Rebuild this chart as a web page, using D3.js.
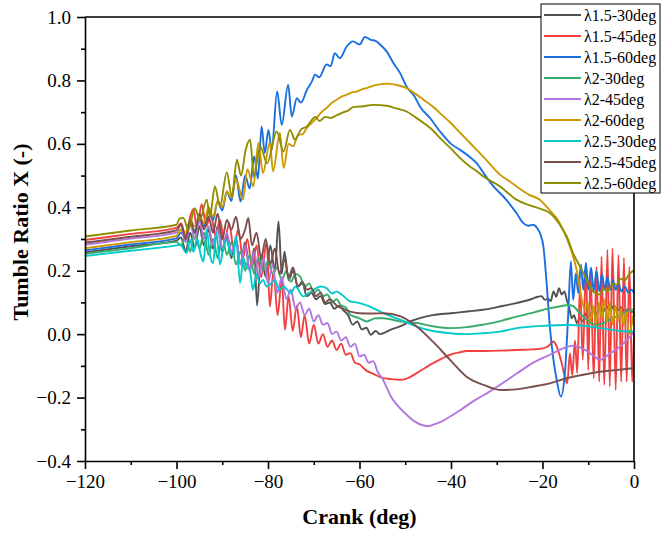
<!DOCTYPE html>
<html>
<head>
<meta charset="utf-8">
<script src="https://cdnjs.cloudflare.com/ajax/libs/d3/7.8.5/d3.min.js"></script>
<style>
  body { margin: 0; background: #fff; }
  svg text { font-family: "Liberation Serif", "DejaVu Serif", serif; fill: #000; }
</style>
</head>
<body>
<svg id="chart" width="662" height="537"></svg>
<script>
// series values, [crank deg, tumble ratio]
var s15_30 = [[-120,0.258],[-110,0.277],[-100,0.295],[-99,0.305],[-98,0.26],[-97,0.32],[-96,0.27],[-95,0.34],[-94,0.28],[-93,0.33],[-92,0.27],[-91,0.34],[-90,0.26],[-89,0.31],[-88,0.24],[-87,0.30],[-86,0.22],[-85,0.29],[-84,0.20],[-83,0.27],[-82.4,0.09],[-81.5,0.25],[-80.5,0.18],[-79.5,0.28],[-78.5,0.20],[-77.7,0.355],[-77,0.19],[-76.4,0.26],[-75.5,0.17],[-74.5,0.2],[-73.5,0.15],[-72.5,0.16],[-71.5,0.12],[-70.5,0.13],[-69.5,0.11],[-68.5,0.12],[-67.5,0.095],[-66.5,0.1],[-65.5,0.08],[-64.5,0.09],[-63.5,0.075],[-62.5,0.06],[-61.5,0.03],[-60.5,0.04],[-59.5,0.015],[-58.5,0.02],[-57.5,-0.002],[-56.5,0.01],[-55.5,0.0],[-54.5,0.005],[-53,0.015],[-51,0.025],[-49,0.04],[-47,0.05],[-44,0.06],[-40,0.066],[-36,0.072],[-33,0.077],[-29,0.088],[-25.7,0.098],[-22.5,0.11],[-21,0.118],[-20.2,0.12],[-19.5,0.108],[-18.8,0.112],[-18.2,0.104],[-17.6,0.135],[-17,0.118],[-16.4,0.145],[-15.8,0.125],[-15.2,0.135],[-14.7,0.108],[-14.2,0.085],[-13.6,0.05],[-13.1,0.06],[-12.5,0.035],[-11.8,0.05],[-11.2,0.04],[-10.5,0.065],[-9.8,0.055],[-9,0.075],[-8.3,0.06],[-7.5,0.085],[-6.8,0.07],[-6,0.087],[-5.2,0.075],[-4.4,0.09],[-3.6,0.075],[-2.8,0.085],[-2,0.07],[-1.2,0.08],[-0.5,0.07],[0,0.071]];

var s15_45 = [[-120,0.297],[-110,0.316],[-100,0.335],[-99,0.35],[-98,0.31],[-97,0.37],[-96.3,0.395],[-95.5,0.33],[-94.5,0.41],[-93.5,0.34],[-92.5,0.38],[-91.5,0.31],[-90.5,0.36],[-89.5,0.29],[-88.5,0.35],[-87.5,0.27],[-86.5,0.33],[-85.5,0.24],[-84.5,0.30],[-83.5,0.21],[-82.5,0.28],[-81.5,0.18],[-80.3,0.29],[-79.6,0.087],[-78.8,0.2],[-77.9,0.06],[-77,0.17],[-76.3,0.014],[-75.5,0.12],[-74.6,0.01],[-73.7,0.09],[-72.8,-0.01],[-72,0.06],[-71,-0.03],[-70,0.03],[-69,-0.03],[-68,0.0],[-67,-0.04],[-66,-0.02],[-65,-0.05],[-64,-0.03],[-63,-0.065],[-62,-0.06],[-61,-0.09],[-60,-0.095],[-58.5,-0.115],[-57,-0.125],[-55,-0.138],[-53,-0.142],[-51,-0.144],[-49.7,-0.14],[-47.5,-0.123],[-45.5,-0.105],[-44,-0.092],[-42,-0.077],[-40.2,-0.065],[-38,-0.057],[-36.6,-0.053],[-32.9,-0.053],[-29,-0.052],[-25.7,-0.05],[-22,-0.048],[-19.9,-0.045],[-18.5,-0.035],[-17.7,-0.023],[-17,-0.035],[-16.4,-0.06],[-15.8,-0.092],[-15.2,-0.13],[-14.6,-0.155],[-14,-0.06],[-13.5,-0.13],[-12.9,-0.02],[-12.4,-0.123],[-11.8,0.161],[-11.2,-0.081],[-10.5,0.224],[-10,-0.113],[-9.5,0.203],[-8.8,-0.139],[-8.2,0.213],[-7.6,-0.15],[-7.1,0.245],[-6.5,-0.16],[-5.8,0.266],[-5.3,-0.165],[-4.7,0.271],[-4,-0.176],[-3.4,0.25],[-2.8,-0.15],[-2.2,0.24],[-1.6,-0.15],[-1,0.213],[-0.4,-0.15],[0,0.0]];

var s15_60 = [[-120,0.264],[-110,0.283],[-100,0.302],[-99,0.32],[-98,0.30],[-97,0.345],[-96,0.32],[-95,0.36],[-94,0.34],[-93,0.39],[-92,0.36],[-91,0.42],[-90,0.39],[-89,0.45],[-88,0.42],[-87,0.50],[-86,0.418],[-85,0.50],[-84,0.46],[-83,0.56],[-82.2,0.49],[-81.4,0.655],[-80.7,0.571],[-79.9,0.644],[-79.2,0.581],[-78,0.765],[-77,0.66],[-75.6,0.786],[-74.8,0.686],[-73.7,0.744],[-72.8,0.73],[-71.5,0.77],[-70.4,0.797],[-69.7,0.818],[-68.8,0.81],[-67.2,0.85],[-66.3,0.845],[-65.4,0.886],[-64.3,0.87],[-62.8,0.907],[-61.4,0.923],[-60,0.913],[-58.8,0.937],[-57.5,0.928],[-56.5,0.925],[-55.5,0.913],[-54,0.89],[-52.6,0.855],[-51,0.82],[-49.7,0.78],[-48,0.75],[-46.8,0.718],[-44.5,0.68],[-42.4,0.639],[-40,0.6],[-38,0.581],[-36,0.56],[-34.4,0.539],[-32.5,0.50],[-30.7,0.466],[-28,0.425],[-25.7,0.382],[-24.2,0.35],[-23,0.342],[-22,0.345],[-21.2,0.335],[-20.6,0.32],[-19.8,0.276],[-19.1,0.161],[-18.4,0.024],[-17.6,-0.081],[-16.9,-0.144],[-16,-0.197],[-15.1,-0.123],[-14.4,0.056],[-13.8,0.229],[-13.3,0.108],[-12.7,0.192],[-12.2,0.129],[-11.6,0.219],[-11.1,0.14],[-10.5,0.225],[-10,0.14],[-9.4,0.21],[-8.8,0.135],[-8.2,0.2],[-7.6,0.135],[-7,0.19],[-6.4,0.14],[-5.8,0.18],[-5.2,0.14],[-4.6,0.17],[-4,0.14],[-3.4,0.16],[-2.8,0.135],[-2,0.15],[-1.2,0.13],[-0.5,0.14],[0,0.13]];

var s2_30 = [[-120,0.253],[-110,0.271],[-100,0.29],[-99,0.28],[-98,0.31],[-97,0.26],[-96,0.33],[-95,0.27],[-94,0.32],[-93,0.25],[-92,0.30],[-91,0.24],[-90,0.31],[-89,0.25],[-88,0.29],[-87,0.22],[-86,0.26],[-85,0.20],[-84,0.25],[-83,0.19],[-82,0.24],[-81,0.20],[-80,0.23],[-79,0.19],[-78,0.21],[-77,0.17],[-76,0.2],[-75,0.165],[-74,0.19],[-73,0.182],[-72,0.15],[-71,0.16],[-70,0.13],[-69,0.14],[-68,0.12],[-67,0.125],[-66,0.10],[-65,0.11],[-64,0.09],[-63,0.085],[-62,0.061],[-60,0.05],[-58.4,0.04],[-56.5,0.05],[-54.8,0.05],[-51,0.04],[-47.5,0.035],[-44,0.025],[-40.2,0.019],[-36.5,0.022],[-33,0.03],[-29,0.042],[-25.7,0.055],[-22,0.068],[-18.4,0.082],[-16,0.088],[-14.5,0.092],[-13.3,0.088],[-11.8,0.065],[-10.3,0.045],[-8.2,0.029],[-6,0.04],[-3.1,0.061],[-1.5,0.072],[0,0.079]];

var s2_45 = [[-120,0.282],[-110,0.301],[-100,0.32],[-99,0.33],[-98,0.29],[-97,0.35],[-96,0.30],[-95,0.36],[-94,0.30],[-93,0.34],[-92,0.28],[-91,0.33],[-90,0.27],[-89,0.32],[-88,0.26],[-87,0.30],[-86,0.22],[-85,0.28],[-84,0.20],[-83,0.26],[-82,0.18],[-81,0.24],[-80,0.16],[-79,0.22],[-78,0.13],[-77,0.18],[-76,0.11],[-75,0.14],[-74,0.08],[-73,0.1],[-72,0.06],[-71,0.08],[-70,0.04],[-69,0.06],[-68,0.03],[-67,0.035],[-66,0.0],[-65,0.008],[-64,-0.02],[-63,-0.01],[-62,-0.04],[-61,-0.03],[-60,-0.07],[-59,-0.065],[-58,-0.09],[-57,-0.085],[-56,-0.12],[-55,-0.14],[-54,-0.17],[-53,-0.2],[-52,-0.22],[-50,-0.25],[-48,-0.275],[-46,-0.288],[-45,-0.29],[-44,-0.286],[-42,-0.275],[-40,-0.258],[-38,-0.24],[-36,-0.22],[-34.4,-0.205],[-32,-0.185],[-29.3,-0.16],[-25.7,-0.125],[-22,-0.09],[-18.4,-0.065],[-16,-0.048],[-14.7,-0.04],[-13.5,-0.037],[-12.5,-0.039],[-11,-0.047],[-9.6,-0.06],[-8.5,-0.072],[-7.4,-0.081],[-6.5,-0.075],[-5.2,-0.06],[-4,-0.05],[-2.3,-0.029],[-1,-0.01],[0,0.008]];

var s2_60 = [[-120,0.271],[-110,0.29],[-100,0.31],[-99,0.33],[-98,0.32],[-97,0.36],[-96,0.34],[-95,0.37],[-94,0.35],[-93,0.40],[-92,0.37],[-91,0.42],[-90,0.40],[-89,0.45],[-88,0.43],[-87,0.49],[-85.5,0.424],[-84.5,0.52],[-83.2,0.466],[-82.1,0.603],[-81.1,0.508],[-79.6,0.603],[-78.9,0.513],[-77.4,0.634],[-76.6,0.524],[-75.5,0.60],[-74.5,0.592],[-73.4,0.629],[-72.5,0.63],[-71.5,0.65],[-70.5,0.665],[-69.4,0.681],[-68.3,0.70],[-67.2,0.713],[-66,0.73],[-65,0.739],[-63.8,0.75],[-62.8,0.755],[-61.5,0.763],[-60.6,0.765],[-59.5,0.772],[-58.4,0.776],[-56.5,0.785],[-54.1,0.79],[-52,0.786],[-49.7,0.776],[-48,0.76],[-46,0.739],[-44,0.718],[-42.4,0.697],[-40,0.665],[-38,0.635],[-36,0.605],[-34.4,0.581],[-32,0.545],[-29.3,0.503],[-27,0.48],[-25.7,0.466],[-23,0.44],[-20.6,0.424],[-18.4,0.39],[-16.9,0.365],[-15.5,0.329],[-14,0.276],[-12.5,0.2],[-11.4,0.108],[-10.7,0.077],[-10.1,0.1],[-9.5,0.04],[-8.9,0.09],[-8.3,0.03],[-7.7,0.1],[-7.1,0.05],[-6.5,0.11],[-5.9,0.04],[-5.3,0.1],[-4.7,0.03],[-4.1,0.09],[-3.5,0.04],[-2.9,0.08],[-2.3,0.03],[-1.7,0.07],[-1.1,0.0],[-0.5,0.03],[0,0.07]];

var s25_30 = [[-120,0.246],[-110,0.263],[-100,0.28],[-99.2,0.282],[-97.8,0.256],[-97,0.297],[-96.3,0.26],[-95.5,0.30],[-94.7,0.25],[-94.1,0.229],[-93.4,0.329],[-92.7,0.25],[-92,0.224],[-91.3,0.32],[-90.5,0.22],[-89.8,0.27],[-89.1,0.297],[-88.3,0.26],[-87.6,0.245],[-87,0.31],[-86.1,0.161],[-85.4,0.24],[-84.7,0.21],[-84,0.203],[-83.3,0.14],[-82.5,0.19],[-81.8,0.16],[-81.1,0.171],[-80.3,0.15],[-79.6,0.156],[-78.5,0.17],[-77.5,0.14],[-76.6,0.15],[-75,0.13],[-74,0.15],[-72.3,0.119],[-71,0.13],[-70,0.14],[-68.5,0.15],[-67.2,0.145],[-66,0.128],[-65,0.134],[-63.5,0.12],[-62,0.103],[-60.6,0.1],[-57.7,0.087],[-54.8,0.066],[-51,0.045],[-47.5,0.024],[-44,0.01],[-40.2,0.003],[-36.5,0.0],[-32.9,0.003],[-29.3,0.008],[-25.7,0.019],[-20,0.026],[-14.7,0.029],[-10,0.025],[-7.4,0.019],[-3,0.01],[0,0.008]];

var s25_45 = [[-120,0.288],[-110,0.307],[-100,0.327],[-99,0.345],[-98,0.30],[-97,0.36],[-96,0.32],[-95,0.38],[-94,0.33],[-93,0.37],[-92,0.32],[-91,0.38],[-90,0.30],[-89,0.36],[-88,0.33],[-87,0.37],[-86,0.30],[-85,0.33],[-84.3,0.366],[-83.5,0.28],[-82.5,0.32],[-81.5,0.24],[-80.5,0.30],[-79.5,0.22],[-78.5,0.27],[-77.5,0.19],[-76.4,0.235],[-75.5,0.18],[-74.5,0.21],[-73.5,0.15],[-72.5,0.165],[-71.5,0.14],[-70.5,0.145],[-69.5,0.12],[-68.5,0.13],[-67.5,0.1],[-66.5,0.11],[-65,0.09],[-63.5,0.08],[-62,0.071],[-60,0.066],[-57,0.065],[-54.8,0.066],[-51,0.056],[-47.5,0.024],[-44,-0.023],[-40.2,-0.081],[-36.6,-0.134],[-32.9,-0.16],[-29.3,-0.176],[-25.7,-0.174],[-22,-0.165],[-18.4,-0.155],[-15,-0.14],[-11.1,-0.128],[-7,-0.118],[-3.8,-0.113],[0,-0.107]];

var s25_60 = [[-120,0.308],[-110,0.327],[-100,0.345],[-99.3,0.365],[-98.5,0.366],[-97.4,0.329],[-96,0.397],[-94.9,0.36],[-93.4,0.424],[-92.7,0.371],[-91.6,0.466],[-90.5,0.403],[-89,0.51],[-87.9,0.435],[-86.8,0.55],[-85.9,0.50],[-84.9,0.58],[-83.9,0.613],[-83.1,0.497],[-81.7,0.592],[-80.2,0.539],[-78.1,0.639],[-76.6,0.576],[-75.2,0.644],[-74.1,0.613],[-72.8,0.645],[-71.5,0.655],[-70.6,0.672],[-69.7,0.685],[-68.7,0.672],[-67.5,0.685],[-66.3,0.682],[-65,0.69],[-63.6,0.699],[-62.5,0.705],[-61.4,0.716],[-59.5,0.718],[-57,0.723],[-54.1,0.72],[-52,0.712],[-49.7,0.702],[-48,0.686],[-46,0.666],[-44,0.643],[-42.4,0.618],[-40,0.585],[-38,0.555],[-36,0.53],[-34,0.51],[-32.9,0.497],[-29.3,0.466],[-25.7,0.424],[-22.1,0.403],[-20,0.393],[-18.4,0.382],[-16.2,0.345],[-14.7,0.308],[-13.3,0.255],[-11.8,0.213],[-10.3,0.171],[-8.9,0.134],[-7.4,0.125],[-6.5,0.145],[-5.8,0.135],[-4.5,0.16],[-3.7,0.155],[-3,0.175],[-2,0.17],[-1,0.19],[0,0.201]];

var seriesNames = ["λ1.5-30deg", "λ1.5-45deg", "λ1.5-60deg", "λ2-30deg", "λ2-45deg", "λ2-60deg", "λ2.5-30deg", "λ2.5-45deg", "λ2.5-60deg"];
var seriesData = [s15_30, s15_45, s15_60, s2_30, s2_45, s2_60, s25_30, s25_45, s25_60];
var colors = ["#515151", "#F14040", "#1A6FDF", "#37AD6B", "#B177DE", "#CC9900", "#00CBCC", "#7D4E4E", "#8E8E00"];

var xTicks = [-120, -100, -80, -60, -40, -20, 0];
var xMinor = [-110, -90, -70, -50, -30, -10];
var yTicks = [-0.4, -0.2, 0.0, 0.2, 0.4, 0.6, 0.8, 1.0];
var yMinor = [-0.3, -0.1, 0.1, 0.3, 0.5, 0.7, 0.9];

var serif = "'Liberation Serif', 'DejaVu Serif', serif";

// set the dimensions and margins of the graph
var margin = { top: 17, right: 28, bottom: 76, left: 85 },
  width = 662 - margin.left - margin.right,
  height = 537 - margin.top - margin.bottom;

var svg = d3.select("#chart");
var g = svg.append("g").attr("transform", "translate(" + margin.left + "," + margin.top + ")");

var x = d3.scaleLinear().domain([-120, 0]).range([0, width]);
var y = d3.scaleLinear().domain([-0.4, 1.0]).range([height, 0]);

var valueline = d3.line()
  .x(function(d) { return x(d[0]); })
  .y(function(d) { return y(d[1]); })
  .curve(d3.curveMonotoneX);

// lines
seriesData.forEach(function(s, i) {
  g.append("path")
    .datum(s)
    .attr("fill", "none")
    .attr("stroke", colors[i])
    .attr("stroke-width", 1.9)
    .attr("stroke-linejoin", "round")
    .attr("d", valueline);
});

// frame on top and right
g.append("line").attr("x1", 0).attr("x2", width).attr("y1", 0).attr("y2", 0)
  .attr("stroke", "#000").attr("stroke-width", 1.6);
g.append("line").attr("x1", width).attr("x2", width).attr("y1", 0).attr("y2", height)
  .attr("stroke", "#000").attr("stroke-width", 1.6);

// x axis, major + minor
g.append("g").attr("transform", "translate(0," + height + ")")
  .attr("font-family", serif)
  .call(d3.axisBottom(x).tickValues(xTicks).tickSize(8).tickSizeOuter(0).tickPadding(6)
    .tickFormat(d3.format("d")));
g.append("g").attr("transform", "translate(0," + height + ")")
  .call(d3.axisBottom(x).tickValues(xMinor).tickSize(4).tickSizeOuter(0).tickFormat(""))
  .select(".domain").remove();

// y axis
g.append("g")
  .attr("font-family", serif)
  .call(d3.axisLeft(y).tickValues(yTicks).tickSize(8).tickSizeOuter(0).tickPadding(6)
    .tickFormat(d3.format(".1f")));
g.append("g")
  .call(d3.axisLeft(y).tickValues(yMinor).tickSize(4).tickSizeOuter(0).tickFormat(""))
  .select(".domain").remove();

g.selectAll(".domain, .tick line").attr("stroke", "#000").attr("stroke-width", 1.6);
g.selectAll(".tick text")
  .attr("font-family", serif)
  .attr("font-size", 19)
  .attr("fill", "#000");

// axis titles
svg.append("text")
  .attr("x", margin.left + width / 2)
  .attr("y", 524)
  .attr("text-anchor", "middle")
  .attr("font-family", serif)
  .attr("font-size", 22)
  .attr("font-weight", "bold")
  .text("Crank (deg)");

svg.append("text")
  .attr("transform", "translate(28,232) rotate(-90)")
  .attr("text-anchor", "middle")
  .attr("font-family", serif)
  .attr("font-size", 22)
  .attr("font-weight", "bold")
  .text("Tumble Ratio X (-)");

// legend
var legend = svg.append("g");
legend.append("rect")
  .attr("x", 541).attr("y", 4).attr("width", 119).attr("height", 189)
  .attr("fill", "#fff").attr("stroke", "#000").attr("stroke-width", 1);

seriesNames.forEach(function(name, i) {
  var ly = 15 + i * 21;
  legend.append("line")
    .attr("x1", 544).attr("x2", 581).attr("y1", ly).attr("y2", ly)
    .attr("stroke", colors[i]).attr("stroke-width", 2);
  legend.append("text")
    .attr("x", 584).attr("y", ly + 5.5)
    .attr("font-family", serif)
    .attr("font-size", 16)
    .text(name);
});
</script>
</body>
</html>
